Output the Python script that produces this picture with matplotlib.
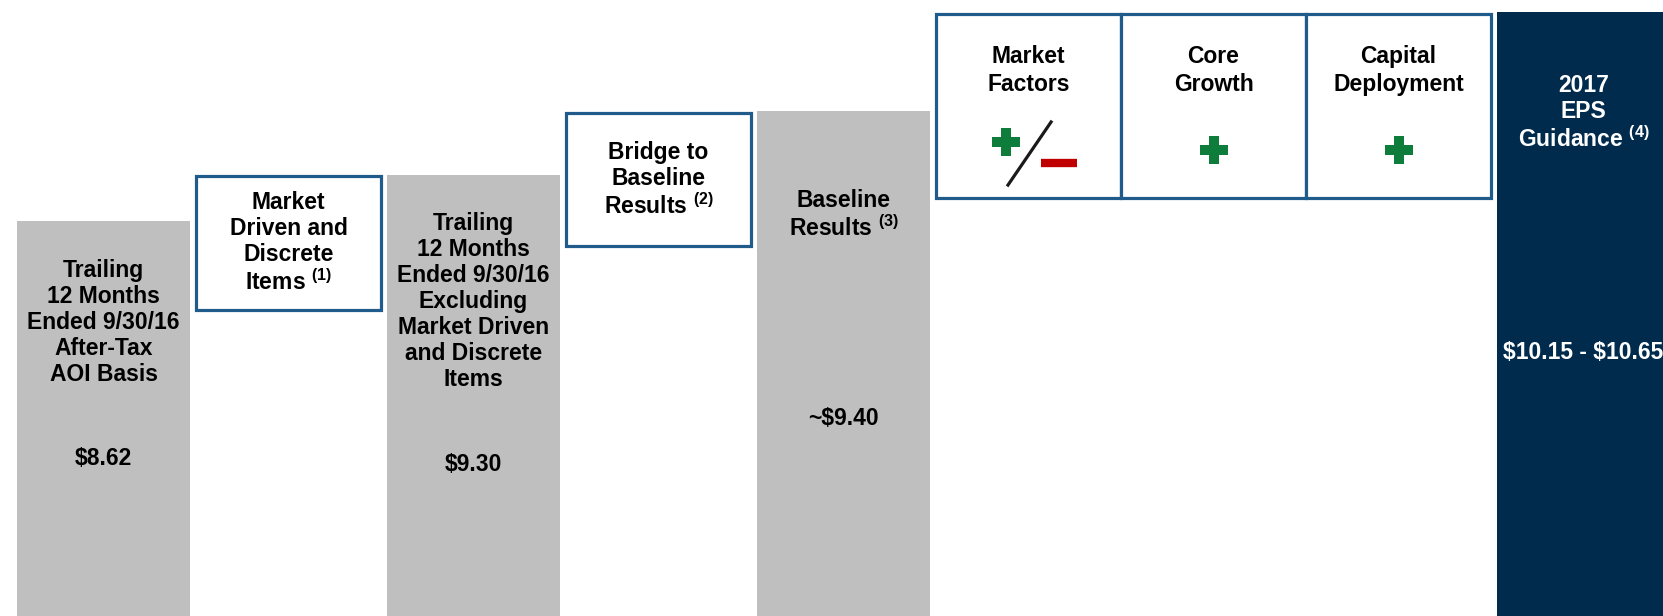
import matplotlib.pyplot as plt

plt.rcParams['font.family'] = ['Liberation Sans', 'DejaVu Sans']
plt.rcParams['mathtext.fontset'] = 'custom'
plt.rcParams['mathtext.rm'] = 'Liberation Sans:bold'
plt.rcParams['mathtext.bf'] = 'Liberation Sans:bold'

# column slots, left to right
steps = ["TTM", "Market Driven", "TTM Excl.", "Bridge", "Baseline",
         "Market Factors", "Core Growth", "Capital Deployment", "2017 Guidance"]

# solid bars (slot index, top height in % of chart height)
bar_idx = [0, 2, 4]
bar_top = [64.1, 71.6, 82.0]
guide_idx = 8
guide_top = 98.05

# outlined step boxes (slot index, bottom, top)
box_idx = [1, 3, 5, 6, 7]
box_bottom = [49.6, 60.1, 67.8, 67.8, 67.8]
box_top = [71.4, 81.7, 97.8, 97.8, 97.8]

bar_labels = ["Trailing\n12 Months\nEnded 9/30/16\nAfter-Tax\nAOI Basis",
              "Trailing\n12 Months\nEnded 9/30/16\nExcluding\nMarket Driven\nand Discrete\nItems",
              "Baseline\nResults $^{(3)}$"]
bar_values = ["$8.62", "$9.30", "~$9.40"]
box_labels = ["Market\nDriven and\nDiscrete\nItems $^{(1)}$",
              "Bridge to\nBaseline\nResults $^{(2)}$",
              "Market\nFactors", "Core\nGrowth", "Capital\nDeployment"]
guide_label = "2017\nEPS\nGuidance $^{(4)}$"
guide_value = "$10.15 - $10.65"

GRAY = '#BFBFBF'
NAVY = '#002B4D'
BLUE = '#1F5C8C'
GREEN = '#0E7D3C'
RED = '#C00000'

fig = plt.figure(figsize=(16.63, 6.16), dpi=100)
ax = fig.add_axes([0, 0, 1, 1])
ax.set_xlim(-0.5595, 8.4297)
ax.set_ylim(0, 100)
ax.axis('off')

ax.bar(bar_idx, bar_top, width=0.935, color=GRAY)
ax.bar(guide_idx, guide_top, width=0.935, color=NAVY)
ax.bar(box_idx, [t - b for t, b in zip(box_top, box_bottom)], bottom=box_bottom,
       width=1.0, facecolor='white', edgecolor=BLUE, linewidth=2.3)

fs = 16.5
ls = 1.17
label_y = [47.6, 51.1, 65.1]
value_y = [25.5, 24.6, 32.0]
for i, lab, val, ly, vy in zip(bar_idx, bar_labels, bar_values, label_y, value_y):
    ax.text(i, ly, lab, ha='center', va='center', fontsize=fs, fontweight='bold',
            linespacing=ls)
    ax.text(i, vy, val.replace('$', r'\$'), ha='center', va='center', fontsize=fs,
            fontweight='bold')

box_label_y = [60.5, 70.8, 88.6, 88.6, 88.6]
box_ls = [ls, ls, 1.26, 1.26, 1.26]
for i, lab, ly, bls in zip(box_idx, box_labels, box_label_y, box_ls):
    ax.text(i, ly, lab, ha='center', va='center', fontsize=fs, fontweight='bold',
            linespacing=bls)

ax.text(guide_idx, 81.7, guide_label, ha='center', va='center', fontsize=fs,
        fontweight='bold', color='white', linespacing=ls)
ax.text(guide_idx, 42.7, guide_value.replace('$', r'\$'), ha='center', va='center',
        fontsize=fs, fontweight='bold', color='white')

# +/- signs in the factor boxes
ax.plot([4.878], [76.9], marker='P', markersize=20, color=GREEN, markeredgewidth=0)
ax.plot([4.889, 5.122], [69.96, 80.2], color='#1A1A1A', linewidth=2.3)
ax.plot([5.068, 5.262], [73.5, 73.5], color=RED, linewidth=6, solid_capstyle='butt')
ax.plot([6, 7], [75.6, 75.6], linestyle='none', marker='P', markersize=20,
        color=GREEN, markeredgewidth=0)

fig.savefig('out.png', dpi=100)
